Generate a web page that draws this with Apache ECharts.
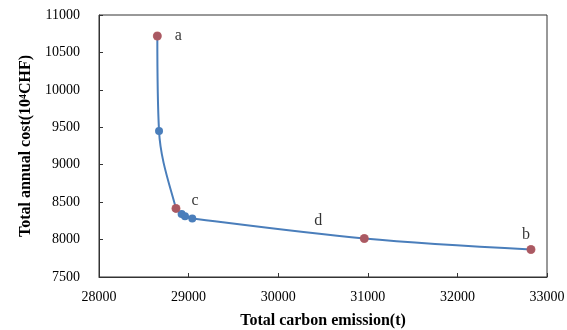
<!DOCTYPE html>
<html>
<head>
<meta charset="utf-8">
<script src="https://cdn.jsdelivr.net/npm/echarts@6/dist/echarts.min.js"></script>
<style>
  html, body { margin: 0; padding: 0; background: #fff; }
  #chart { width: 567px; height: 330px; }
</style>
</head>
<body>
<div id="chart"></div>
<script>
    // pareto front points (carbon emission t, annual cost 10^4 CHF)
    var emission = [28651, 28670, 28859, 28922, 28960, 29041, 30961, 32821];
    var cost = [10719, 9450, 8416, 8340, 8313, 8282, 8015, 7868];
    // highlighted solutions
    var markNames = ['a', 'c', 'd', 'b'];
    var markEmission = [28651, 28859, 30961, 32821];
    var markCost = [10719, 8416, 8015, 7868];
    // label offsets for the letters
    var markOffset = [[21, 0], [19, -8], [-46, -18], [-5, -15]];

    var xTicks = [28000, 29000, 30000, 31000, 32000, 33000];
    var yTicks = [7500, 8000, 8500, 9000, 9500, 10000, 10500, 11000];

    var font = '"Liberation Serif", "Times New Roman", serif';

    function pairs(xs, ys){
    	var ret = [];
    	xs.forEach(function(x, i){
    		ret.push([x, ys[i]]);
    	});
    	return ret;
    }

    var marks = markNames.map(function(n, i){
    	return {
    		value: [markEmission[i], markCost[i]],
    		name: n,
    		label: { offset: markOffset[i] }
    	};
    });

    //plain numbers, no thousands separator
    function plain(v){ return String(v); }

    var chart = echarts.init(document.getElementById('chart'));
    chart.setOption({
    	animation: false,
    	grid: {
    		left: 99, right: 20, top: 15, bottom: 53,
    		outerBoundsMode: 'none',
    		containLabel: false,
    		show: true, borderColor: '#333', borderWidth: 1
    	},
    	xAxis: {
    		type: 'value',
    		min: xTicks[0], max: xTicks[xTicks.length - 1], interval: 1000,
    		name: 'Total carbon emission(t)',
    		nameLocation: 'middle', nameGap: 36,
    		nameTextStyle: { fontFamily: font, fontSize: 16, fontWeight: 'bold', color: '#000' },
    		axisLine: { lineStyle: { color: '#333' } },
    		axisTick: { inside: true, length: 4, lineStyle: { color: '#333' } },
    		axisLabel: { fontFamily: font, fontSize: 14, color: '#000', margin: 13, formatter: plain },
    		splitLine: { show: false }
    	},
    	yAxis: {
    		type: 'value',
    		min: yTicks[0], max: yTicks[yTicks.length - 1], interval: 500,
    		name: 'Total annual cost(10\u2074CHF)',
    		nameLocation: 'middle', nameGap: 62,
    		nameTextStyle: { fontFamily: font, fontSize: 16, fontWeight: 'bold', color: '#000' },
    		axisLine: { show: true, lineStyle: { color: '#333' } },
    		axisTick: { show: true, inside: true, length: 4, lineStyle: { color: '#333' } },
    		axisLabel: { fontFamily: font, fontSize: 14, color: '#000', margin: 19, formatter: plain },
    		splitLine: { show: false }
    	},
    	series: [{
    		type: 'line',
    		data: pairs(emission, cost),
    		smooth: 0.35,
    		symbol: 'circle',
    		symbolSize: 8,
    		lineStyle: { color: '#4a7ebb', width: 2 },
    		itemStyle: { color: '#4a7ebb' }
    	}, {
    		type: 'scatter',
    		data: marks,
    		symbolSize: 9,
    		itemStyle: { color: '#c0504d' },
    		label: {
    			show: true,
    			formatter: '{b}',
    			fontFamily: font,
    			fontSize: 16,
    			color: '#000'
    		},
    		z: 5
    	}]
    });
</script>
</body>
</html>
